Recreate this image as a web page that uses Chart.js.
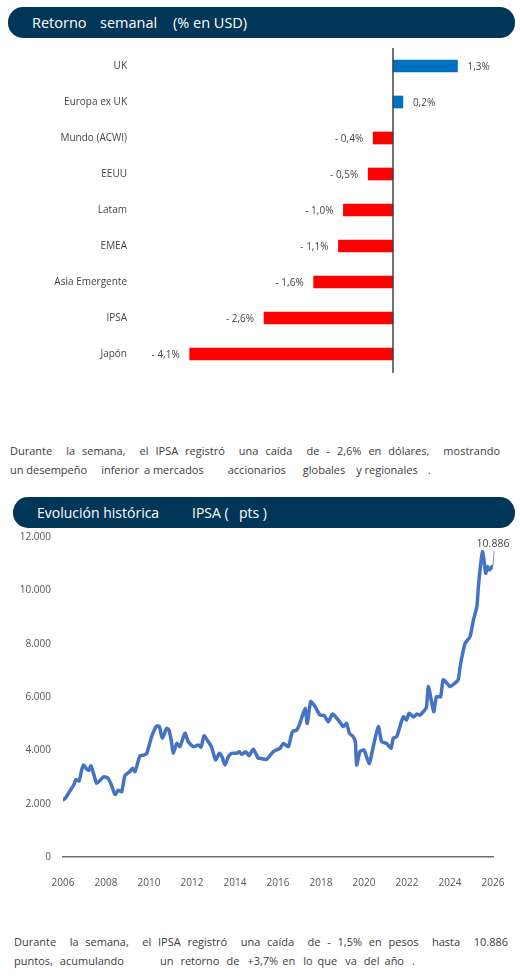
<!DOCTYPE html>
<html>
<head>
<meta charset="utf-8">
<script src="https://cdn.jsdelivr.net/npm/chart.js@4.4.1/dist/chart.umd.min.js"></script>
<style>
body{margin:0;width:520px;height:980px;background:#fff;font-family:"Open Sans",sans-serif;position:relative;overflow:hidden}
.pill{position:absolute;background:#003658;color:#fff;border-radius:15px;font-size:14.5px;white-space:pre;box-sizing:border-box}
.pill span{position:absolute;top:0}
.txt{position:absolute;font-size:11px;color:#3c3c3c;line-height:19px}
.txt div{text-align:justify;text-align-last:justify;white-space:nowrap}
.txt div.words{text-align-last:left;white-space:nowrap}
.txt div.words span{white-space:pre}
canvas{position:absolute}
</style>
</head>
<body>
<div class="pill" style="left:8px;top:7px;width:507px;height:31px;line-height:31px"><span style="left:24px">Retorno</span><span style="left:92px">semanal</span><span style="left:165px">(% en USD)</span></div>
<div style="position:absolute;left:0;top:40px;width:520px;height:345px"><canvas id="bars"></canvas></div>

<div class="txt" style="left:10px;top:441px;width:490px">
<div style="white-space:normal">Durante&nbsp; la semana,&nbsp; el IPSA registró&nbsp; una caída&nbsp; de - 2,6% en dólares,&nbsp; mostrando</div>
<div class="words"><span>un desempeño</span><span style="margin-left:14px">inferior</span><span style="margin-left:5px">a mercados</span><span style="margin-left:24px">accionarios</span><span style="margin-left:17px">globales</span><span style="margin-left:11px">y regionales</span><span style="margin-left:10px">.</span></div>
</div>

<div class="pill" style="left:13px;top:497px;width:502px;height:31px;line-height:31px;font-size:14px"><span style="left:24px">Evolución histórica</span><span style="left:179px">IPSA (</span><span style="left:226px">pts )</span></div>
<div style="position:absolute;left:0;top:525px;width:520px;height:365px"><canvas id="ipsa"></canvas></div>

<div class="txt" style="left:14px;top:932px;width:494px">
<div style="white-space:normal">Durante&nbsp; la semana,&nbsp; el IPSA registró&nbsp; una caída&nbsp; de - 1,5% en pesos&nbsp; hasta&nbsp; 10.886</div>
<div class="words"><span>puntos,</span><span style="margin-left:7px">acumulando</span><span style="margin-left:36px">un</span><span style="margin-left:7px">retorno</span><span style="margin-left:7px">de</span><span style="margin-left:8px">+3,7%</span><span style="margin-left:4px">en</span><span style="margin-left:8px">lo</span><span style="margin-left:5px">que</span><span style="margin-left:8px">va</span><span style="margin-left:7px">del</span><span style="margin-left:5px">año</span><span style="margin-left:8px">.</span></div>
</div>

<script>
var regions = ["UK", "Europa ex UK", "Mundo (ACWI)", "EEUU", "Latam", "EMEA", "Asia Emergente", "IPSA", "Japón"];
var weekly = [1.3, 0.2, -0.4, -0.5, -1.0, -1.1, -1.6, -2.6, -4.1];

var ipsaDates = [2006.0, 2006.1, 2006.3, 2006.5, 2006.6, 2006.75, 2006.85, 2006.95, 2007.1, 2007.2,
	2007.3, 2007.45, 2007.57, 2007.75, 2007.9, 2008.1, 2008.25, 2008.42, 2008.57, 2008.73,
	2008.88, 2009.1, 2009.24, 2009.35, 2009.58, 2009.77, 2009.9, 2010.12, 2010.35, 2010.48,
	2010.62, 2010.82, 2010.93, 2011.05, 2011.13, 2011.29, 2011.44, 2011.67, 2011.83, 2012.06,
	2012.3, 2012.42, 2012.56, 2012.7, 2012.9, 2013.1, 2013.27, 2013.4, 2013.53, 2013.69,
	2013.84, 2014.07, 2014.2, 2014.31, 2014.5, 2014.65, 2014.85, 2015.08, 2015.16, 2015.47,
	2015.78, 2016.09, 2016.25, 2016.48, 2016.67, 2016.87, 2017.02, 2017.26, 2017.36, 2017.52,
	2017.72, 2017.95, 2018.15, 2018.34, 2018.54, 2018.8, 2019.04, 2019.19, 2019.32, 2019.5,
	2019.6, 2019.66, 2019.81, 2020.0, 2020.1, 2020.25, 2020.43, 2020.67, 2020.82, 2021.05,
	2021.26, 2021.36, 2021.52, 2021.67, 2021.83, 2021.98, 2022.09, 2022.3, 2022.45, 2022.6,
	2022.76, 2022.9, 2023.0, 2023.24, 2023.37, 2023.56, 2023.68, 2023.87, 2024.0, 2024.2,
	2024.38, 2024.47, 2024.7, 2024.93, 2025.09, 2025.25, 2025.32, 2025.43, 2025.51, 2025.58,
	2025.66, 2025.74, 2025.84, 2025.95, 2026.0];
var ipsaValues = [2150, 2200, 2450, 2700, 2900, 2850, 3200, 3450, 3300, 3250,
	3420, 3050, 2760, 2900, 3010, 2950, 2700, 2350, 2500, 2450,
	3050, 3200, 3330, 3200, 3790, 3820, 3890, 4510, 4910, 4890,
	4450, 4825, 4760, 4300, 3890, 4260, 4140, 4640, 4320, 4140,
	4200, 4120, 4540, 4400, 4140, 3640, 3890, 3750, 3450, 3760,
	3890, 3890, 3950, 3850, 3950, 3800, 4040, 3700, 3700, 3660,
	3950, 4075, 4260, 4140, 4700, 4760, 5010, 5575, 5010, 5825,
	5640, 5325, 5300, 5075, 5360, 5140, 4890, 5010, 4640, 4510,
	4300, 3450, 3950, 4010, 3800, 3510, 4140, 4890, 4320, 4260,
	4075, 4450, 4510, 4890, 5260, 5140, 5390, 5250, 5360, 5325,
	5450, 5600, 6390, 5450, 6010, 6010, 6640, 6510, 6390, 6500,
	6640, 7140, 8010, 8260, 8890, 9390, 10140, 11010, 11450, 11140,
	10640, 10890, 10760, 10890, 10886];
var yearTicks = [2006, 2008, 2010, 2012, 2014, 2016, 2018, 2020, 2022, 2024, 2026];

var font = "'Open Sans', sans-serif";

function pct(v){
	var s = Math.abs(v).toFixed(1).replace(".", ",") + "%";
	return (v < 0 ? "- " : "") + s;
}
function miles(v){
	return String(v).replace(/\B(?=(\d{3})+(?!\d))/g, ".");
}

var barLabels = {
	id: "barLabels",
	afterDatasetsDraw: function(chart){
		var ctx = chart.ctx;
		var x0 = chart.scales.x.getPixelForValue(0);
		ctx.save();
		ctx.strokeStyle = "#444";
		ctx.lineWidth = 1.5;
		ctx.beginPath();
		ctx.moveTo(x0, chart.chartArea.top);
		ctx.lineTo(x0, chart.chartArea.bottom + 1);
		ctx.stroke();
		ctx.font = "10px " + font;
		ctx.fillStyle = "#444";
		ctx.textBaseline = "middle";
		chart.getDatasetMeta(0).data.forEach(function(bar, i){
			var v = weekly[i];
			if(v < 0){
				ctx.textAlign = "right";
				ctx.fillText(pct(v), bar.x - 10, bar.y + 1);
			} else {
				ctx.textAlign = "left";
				ctx.fillText(pct(v), bar.x + 10, bar.y + 1);
			}
		});
		ctx.restore();
	}
};

new Chart(document.getElementById("bars"), {
	type: "bar",
	data: {
		labels: regions,
		datasets: [{
			data: weekly,
			backgroundColor: weekly.map(function(v){ return v < 0 ? "#FF0000" : "#0070C0"; }),
			barThickness: 12
		}]
	},
	options: {
		indexAxis: "y",
		responsive: true,
		maintainAspectRatio: false,
		animation: false,
		layout: {padding: {top: 8, bottom: 13, right: 8}},
		plugins: {legend: {display: false}, tooltip: {enabled: false}},
		scales: {
			x: {display: false, min: -4.9, max: 2.4},
			y: {
				grid: {display: false, drawTicks: false},
				border: {display: false},
				afterFit: function(s){ s.width = 150; s.paddingTop = 0; s.paddingBottom = 0; },
				ticks: {padding: 23, color: "#444", font: {size: 10, family: font}}
			}
		}
	},
	plugins: [barLabels]
});

var endLabel = {
	id: "endLabel",
	afterDatasetsDraw: function(chart){
		var ctx = chart.ctx;
		var pts = chart.getDatasetMeta(0).data;
		var p = pts[pts.length - 1];
		ctx.save();
		ctx.strokeStyle = "#999";
		ctx.lineWidth = 1;
		ctx.beginPath();
		ctx.moveTo(p.x + 1, p.y - 16);
		ctx.lineTo(p.x, p.y - 1);
		ctx.stroke();
		ctx.font = "10.5px " + font;
		ctx.fillStyle = "#444";
		ctx.textAlign = "center";
		ctx.textBaseline = "bottom";
		ctx.fillText(miles(ipsaValues[ipsaValues.length - 1]), p.x, p.y - 17);
		ctx.restore();
	}
};

new Chart(document.getElementById("ipsa"), {
	type: "line",
	data: {
		datasets: [{
			data: ipsaDates.map(function(d, i){ return {x: d, y: ipsaValues[i]}; }),
			borderColor: "#4472C4",
			borderWidth: 3.5,
			pointRadius: 0,
			tension: 0.2,
			borderJoinStyle: "round",
			borderCapStyle: "round"
		}]
	},
	options: {
		responsive: true,
		maintainAspectRatio: false,
		animation: false,
		layout: {padding: {top: 12, right: 27}},
		plugins: {legend: {display: false}, tooltip: {enabled: false}},
		scales: {
			x: {
				type: "linear",
				min: 2006,
				max: 2026,
				afterBuildTicks: function(s){ s.ticks = yearTicks.map(function(v){ return {value: v}; }); },
				grid: {display: false},
				border: {display: true, color: "#6b6b6b", width: 1.5},
				afterFit: function(s){ s.height = 33; s.paddingLeft = 0; s.paddingRight = 0; },
				ticks: {padding: 12, color: "#555", font: {size: 10, family: font}, callback: function(v){ return String(v); }}
			},
			y: {
				min: 0,
				max: 12000,
				ticks: {stepSize: 2000, padding: 12, color: "#555", font: {size: 10, family: font}, callback: function(v){ return miles(v); }},
				grid: {display: false, drawTicks: false},
				border: {display: false},
				afterFit: function(s){ s.width = 63; s.paddingTop = 0; s.paddingBottom = 0; }
			}
		}
	},
	plugins: [endLabel]
});
</script>
</body>
</html>
